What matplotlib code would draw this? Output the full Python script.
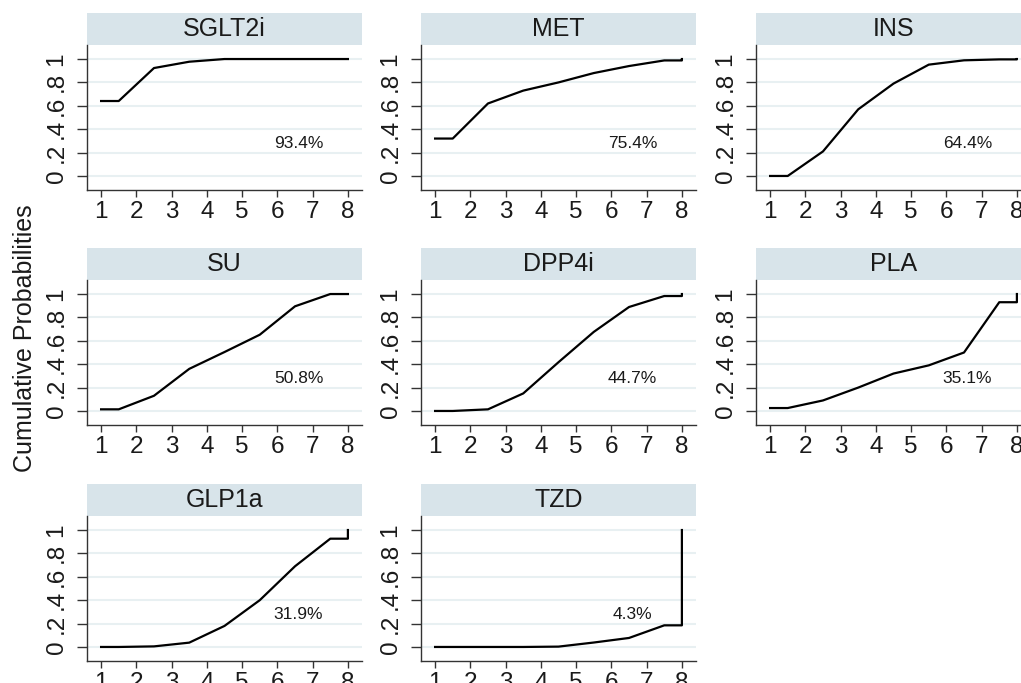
import matplotlib.pyplot as plt
from matplotlib.patches import Rectangle

plt.rcParams['font.family'] = ['Liberation Sans', 'DejaVu Sans']

treatments = ["SGLT2i", "MET", "INS", "SU", "DPP4i", "PLA", "GLP1a", "TZD"]
sucra_labels = ["93.4%", "75.4%", "64.4%", "50.8%", "44.7%", "35.1%", "31.9%", "4.3%"]

# cumulative probability of being within the best k ranks, k = 1..7
cum_sglt2i = [0.641, 0.923, 0.977, 1.0, 1.0, 1.0, 1.0]
cum_met = [0.32, 0.62, 0.73, 0.80, 0.88, 0.94, 0.988]
cum_ins = [0.0, 0.21, 0.57, 0.79, 0.952, 0.989, 0.997]
cum_su = [0.014, 0.13, 0.36, 0.504, 0.652, 0.895, 1.0]
cum_dpp4i = [0.0, 0.014, 0.15, 0.417, 0.676, 0.889, 0.983]
cum_pla = [0.025, 0.09, 0.20, 0.32, 0.39, 0.50, 0.93]
cum_glp1a = [0.0, 0.005, 0.037, 0.18, 0.40, 0.69, 0.926]
cum_tzd = [0.0, 0.0, 0.0, 0.003, 0.038, 0.077, 0.185]

cum_probs = [cum_sglt2i, cum_met, cum_ins, cum_su, cum_dpp4i, cum_pla, cum_glp1a, cum_tzd]

# x positions of the plotted curve (Stata sucra style)
rank_x = [1, 1.5, 2.5, 3.5, 4.5, 5.5, 6.5, 7.5, 8, 8]

W, H = 1021, 683
fig = plt.figure(figsize=(W / 100, H / 100), dpi=100)

col_left = [87, 421, 756]
row_bottom = [190, 425, 661]
ax_w, ax_h = 275, 145
strip_h = 32

strip_color = "#d8e4ea"
grid_color = "#e8f0f2"
ink = "#1a1a1a"

for i, name in enumerate(treatments):
    r, c = divmod(i, 3)
    left = col_left[c] / W
    bottom = 1 - row_bottom[r] / H
    ax = fig.add_axes([left, bottom, ax_w / W, ax_h / H])

    vals = cum_probs[i]
    y = [vals[0]] + vals + [vals[-1], 1.0]
    ax.plot(rank_x, y, color="black", lw=1.6, zorder=3)

    ax.set_xlim(0.6, 8.4)
    ax.set_ylim(-0.12, 1.12)
    ax.set_xticks(range(1, 9))
    ax.set_yticks([0, 0.2, 0.4, 0.6, 0.8, 1.0])
    ax.set_yticklabels(["0", ".2", ".4", ".6", ".8", "1"], rotation=90, va="center")
    ax.yaxis.grid(True, color=grid_color, lw=1.5, zorder=0)
    ax.set_axisbelow(True)

    for s in ["top", "right"]:
        ax.spines[s].set_visible(False)
    for s in ["left", "bottom"]:
        ax.spines[s].set_color("#333333")
        ax.spines[s].set_linewidth(1.0)

    ax.tick_params(axis="x", length=5, width=1, pad=3, labelsize=17.5,
                   color="#333333", labelcolor=ink)
    ax.tick_params(axis="y", length=7, width=1, pad=7, labelsize=17.5,
                   color="#333333", labelcolor=ink)

    ax.add_patch(Rectangle((0, 1), 1, strip_h / ax_h, transform=ax.transAxes,
                           facecolor=strip_color, edgecolor="none", clip_on=False))
    ax.text(0.5, 1 + strip_h / ax_h / 2, name, transform=ax.transAxes,
            ha="center", va="center", fontsize=18, color=ink)

    ax.text(6.6, 0.28, sucra_labels[i], ha="center", va="center",
            fontsize=12.5, color=ink)

fig.text(25 / W, 1 - 338 / H, "Cumulative Probabilities", rotation=90,
         ha="center", va="center", fontsize=18, color=ink)

fig.savefig("out.png", dpi=100)
